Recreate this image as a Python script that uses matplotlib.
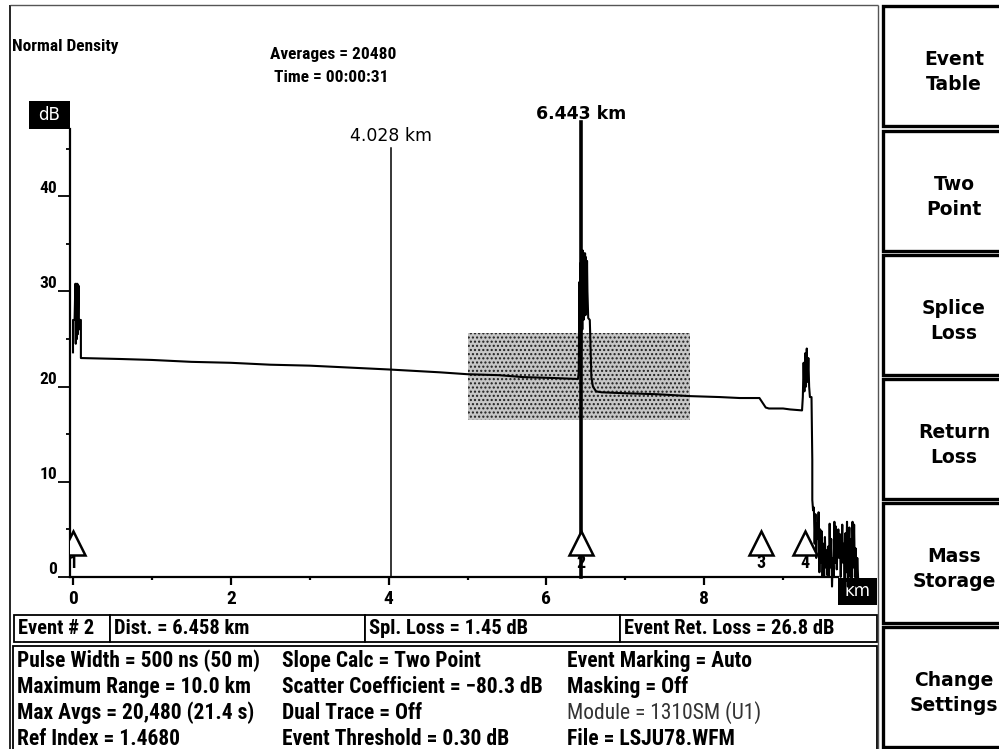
import matplotlib
matplotlib.use('Agg')
import matplotlib.pyplot as plt
from matplotlib import font_manager
from matplotlib.patches import Rectangle

W, H = 999, 749

names = {f.name for f in font_manager.fontManager.ttflist}
COND = next((n for n in ['Liberation Sans Narrow', 'Roboto Condensed', 'DejaVu Sans Condensed',
                         'Liberation Sans'] if n in names), 'DejaVu Sans')
CF = [COND, 'DejaVu Sans']
WF = ['DejaVu Sans']

# ---------------- data ----------------
trace_km = [0.00, 0.00, 0.02, 0.03, 0.035, 0.04, 0.05, 0.055, 0.06, 0.07, 0.075, 0.08, 0.10, 0.10,
            0.60, 1.00, 1.50, 2.00, 2.50, 3.00, 3.50, 4.00, 4.65, 5.00, 5.40, 5.70, 6.10, 6.40,
            6.41, 6.42, 6.425, 6.43, 6.44, 6.45, 6.455, 6.46, 6.47, 6.475, 6.48, 6.49, 6.495,
            6.50, 6.51, 6.515, 6.52, 6.53, 6.55,
            6.57, 6.59, 6.63, 6.70, 7.00, 7.40, 7.82, 8.20, 8.45, 8.70, 8.74, 8.78, 8.82, 9.00,
            9.09, 9.24, 9.25, 9.26, 9.27, 9.28, 9.29, 9.30, 9.31, 9.32, 9.33, 9.34, 9.36, 9.37,
            9.37, 9.38, 9.39, 9.40, 9.41, 9.42, 9.43, 9.44, 9.45, 9.46, 9.47, 9.48, 9.49, 9.50,
            9.51, 9.52, 9.53, 9.54, 9.55, 9.56, 9.57, 9.58, 9.59, 9.60, 9.61, 9.62, 9.63, 9.64,
            9.65, 9.66, 9.67, 9.68, 9.69, 9.70, 9.71, 9.72, 9.73, 9.74, 9.75, 9.76, 9.77, 9.78,
            9.79, 9.80, 9.81, 9.82, 9.83, 9.84, 9.85, 9.86, 9.87, 9.88, 9.89, 9.90, 9.91, 9.92,
            9.93, 9.94, 9.95]
trace_db = [23.6, 27.0, 27.0, 30.8, 24.5, 30.8, 25.0, 30.8, 25.5, 30.6, 26.0, 27.0, 27.0, 23.0,
            22.9, 22.8, 22.6, 22.5, 22.3, 22.2, 22.0, 21.8, 21.5, 21.3, 21.2, 21.0, 20.9, 20.8,
            21.5, 31.0, 23.0, 33.0, 24.0, 34.3, 26.0, 34.3, 27.0, 34.0, 28.0, 34.0, 27.5,
            33.6, 28.5, 33.2, 30.0, 27.2, 27.0,
            21.0, 20.0, 19.5, 19.4, 19.3, 19.2, 19.0, 18.9, 18.8, 18.8, 18.3, 17.8, 17.7, 17.7,
            17.6, 17.5, 18.9, 22.5, 19.5, 23.5, 20.0, 24.0, 20.5, 23.0, 20.0, 18.9, 18.9, 12.3,
            8.1, 7.0, 7.3, 3.5, 6.6, 2.0, 5.6, 4.0, 6.8, 0.5, 5.0, 1.5, 4.8, 0.0,
            3.5, 0.0, 4.2, 1.0, 2.8, 0.2, 3.2, 0.0, 5.6, 1.0, 4.0, -1.0, 2.0, 0.0,
            5.8, 1.5, 5.3, 0.8, 3.5, 5.0, 2.0, 4.5, 0.0, 2.8, 5.5, 1.5, 3.5, -1.2,
            4.6, 0.5, 5.8, -1.0, 3.0, 5.2, 0.0, 4.0, -0.5, 5.8, 1.0, 5.5, 0.0, 3.0,
            -1.0, 2.0, 0.0]

y_ticks = [0, 10, 20, 30, 40]
y_minor = [5, 15, 25, 35, 45]
x_ticks = [0, 2, 4, 6, 8]
x_minor = [1, 3, 5, 7, 9]

cursor_km = [4.028, 6.443]
cursor_top = [45.1, 47.8]
cursor_labels = ['4.028 km', '6.443 km']

event_km = [0.0, 6.443, 8.72, 9.28]
event_labels = ['1', '2', '3', '4']

shade_km = [5.0, 7.82]
shade_db = [16.5, 25.6]

header_left = 'Normal Density'
header_center = ['Averages = 20480', 'Time = 00:00:31']

event_row = ['Event # 2', 'Dist. = 6.458 km', 'Spl. Loss = 1.45 dB', 'Event Ret. Loss = 26.8 dB']
info_col1 = ['Pulse Width = 500 ns (50 m)', 'Maximum Range = 10.0 km',
             'Max Avgs = 20,480 (21.4 s)', 'Ref Index = 1.4680']
info_col2 = ['Slope Calc = Two Point', 'Scatter Coefficient = \u221280.3 dB',
             'Dual Trace = Off', 'Event Threshold = 0.30 dB']
info_col3 = ['Event Marking = Auto', 'Masking = Off', 'Module = 1310SM (U1)', 'File = LSJU78.WFM']
buttons = ['Event\nTable', 'Two\nPoint', 'Splice\nLoss', 'Return\nLoss', 'Mass\nStorage', 'Change\nSettings']

# ---------------- figure ----------------
fig = plt.figure(figsize=(W / 100, H / 100), dpi=100)
fig.patch.set_facecolor('white')

ov = fig.add_axes([0, 0, 1, 1], zorder=0)
ov.set_xlim(0, W)
ov.set_ylim(H, 0)
ov.axis('off')

# pixel mapping for data axes
X0, PXKM = 73.0, 78.9
Y0, PXDB = 577.0, 9.52
LEFT_PX, RIGHT_PX, TOP_PX = 70.0, 838.0, 129.0
ax = fig.add_axes([LEFT_PX / W, 1 - Y0 / H, (RIGHT_PX - LEFT_PX) / W, (Y0 - TOP_PX) / H], zorder=2)
ax.set_facecolor('none')
ax.set_xlim(-(X0 - LEFT_PX) / PXKM, (RIGHT_PX - X0) / PXKM)
ax.set_ylim(0, (Y0 - TOP_PX) / PXDB)
for s in ['top', 'right']:
    ax.spines[s].set_visible(False)
for s in ['left', 'bottom']:
    ax.spines[s].set_linewidth(1.6)

ax.set_yticks(y_ticks)
ax.set_yticks(y_minor, minor=True)
ax.set_yticklabels([str(v) for v in y_ticks], fontfamily=CF, fontweight='bold', fontsize=12.5)
ax.tick_params(axis='y', which='major', direction='out', length=8.8, width=1.3, pad=0.3)
ax.tick_params(axis='y', which='minor', direction='out', length=3.0, width=1.3)
for lbl in ax.get_yticklabels():
    lbl.set_verticalalignment('bottom')

ax.set_xticks(x_ticks)
ax.set_xticks(x_minor, minor=True)
ax.set_xticklabels([str(v) for v in x_ticks], fontfamily=CF, fontweight='bold', fontsize=14)
ax.tick_params(axis='x', which='major', direction='out', length=5.5, width=1.6, pad=3.5)
ax.tick_params(axis='x', which='minor', direction='out', length=2.5, width=1.6)

# shaded window
ax.add_patch(Rectangle((shade_km[0], shade_db[0]), shade_km[1] - shade_km[0], shade_db[1] - shade_db[0],
                       facecolor='#c6c6c6', edgecolor='#1e1e1e', hatch='....', lw=0, zorder=1))

# trace
ax.plot(trace_km, trace_db, color='black', lw=1.5, clip_on=False, zorder=3)

# cursors
for k, top, lab, lw, wt, dy in zip(cursor_km, cursor_top, cursor_labels, [1.1, 2.6],
                                   ['normal', 'bold'], [0.25, -0.1]):
    ax.plot([k, k], [0, top], color='black', lw=lw, clip_on=False, zorder=4)
    ax.text(k, top + dy, lab, ha='center', va='bottom', fontsize=12.5, fontweight=wt,
            family=WF, clip_on=False)

# events
ax.plot(event_km, [3.6] * len(event_km), ls='none', marker='^', ms=17, mfc='white',
        mec='black', mew=1.8, zorder=5)
for k, lab in zip(event_km, event_labels):
    ax.text(k, 1.45, lab, ha='center', va='center', fontsize=13, fontweight='bold',
            family=CF, zorder=6)

# ---------------- overlay UI ----------------
def line(xs, ys, **kw):
    ov.plot(xs, ys, color=kw.pop('color', 'black'), lw=kw.pop('lw', 1.0), solid_capstyle='butt', **kw)

line([10, 10], [5, 749], lw=1.2)
line([10, 878], [5, 5], lw=1.0, color='#555555')
line([878, 878], [5, 749], lw=1.0, color='#555555')

# dB and km boxes
ov.add_patch(Rectangle((29, 101), 41, 28, facecolor='black', edgecolor='none'))
ov.text(49.5, 115, 'dB', color='white', ha='center', va='center', fontsize=12, family=WF)
ov.add_patch(Rectangle((838, 578), 39, 27, facecolor='black', edgecolor='none', zorder=3))
ov.text(857.5, 591.5, 'km', color='white', ha='center', va='center', fontsize=12, family=WF, zorder=4)

# header text
ov.text(12, 46, header_left, ha='left', va='center', fontsize=12.5, fontweight='bold', family=CF)
ov.text(333, 54, header_center[0], ha='center', va='center', fontsize=12.5, fontweight='bold', family=CF)
ov.text(331, 78, header_center[1], ha='center', va='center', fontsize=12.5, fontweight='bold', family=CF)

# event row boxes
row_x = [14, 110, 365, 620, 877]
for i in range(4):
    ov.add_patch(Rectangle((row_x[i], 615), row_x[i + 1] - row_x[i], 27, facecolor='white',
                           edgecolor='black', lw=1.3))
    ov.text(row_x[i] + 4, 629, event_row[i], ha='left', va='center', fontsize=14.8,
            fontweight='bold', family=CF)

# info box
ov.add_patch(Rectangle((13, 646), 864, 110, facecolor='white', edgecolor='black', lw=1.3))
row_y = [661, 687, 713, 739]
for col, x in zip([info_col1, info_col2, info_col3], [17, 282, 567]):
    for txt, y in zip(col, row_y):
        reg = txt.startswith('Module')
        ov.text(x, y, txt, ha='left', va='center', fontsize=15.5,
                fontweight='normal' if reg else 'bold', color='#333333' if reg else 'black',
                family=CF)

# right buttons
btn_top = [6, 131, 255, 379, 503, 627]
for lab, t in zip(buttons, btn_top):
    ov.add_patch(Rectangle((883, t), 150, 120, facecolor='white', edgecolor='black', lw=2.4))
    ov.text(954, t + 66, lab, ha='center', va='center', fontsize=13.5, fontweight='bold',
            family=WF, linespacing=1.38)

fig.savefig('out.png', dpi=100, facecolor='white')
